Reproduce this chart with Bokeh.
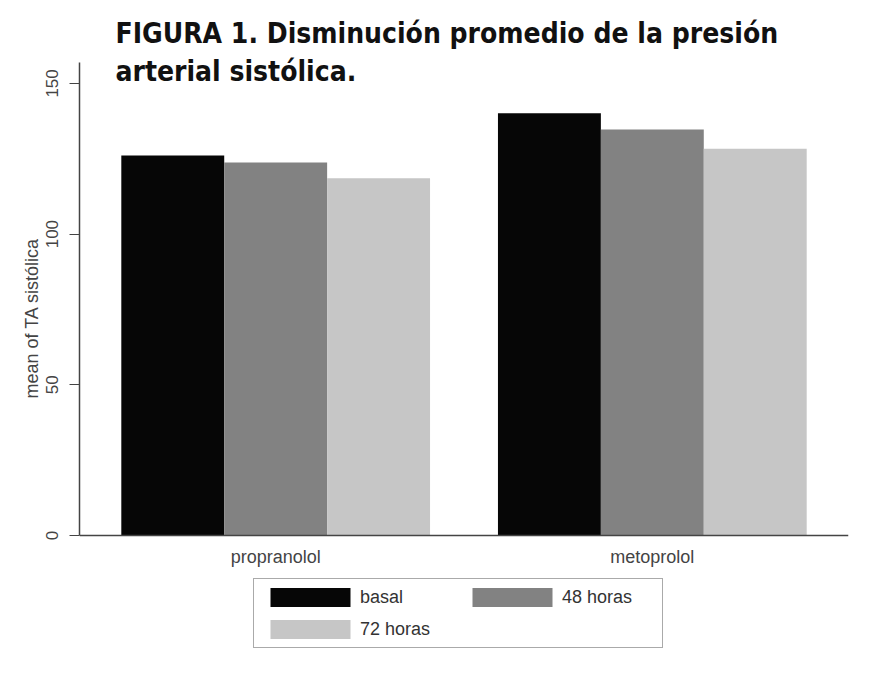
from bokeh.plotting import figure
from bokeh.models import FactorRange, Legend, LegendItem, Label, ColumnDataSource, Span, Title
from bokeh.core.properties import value
from bokeh.embed import file_html
from bokeh.resources import INLINE

categories = ["propranolol", "metoprolol"]
series = ["basal", "48 horas", "72 horas"]
basal = [126.1, 140.1]
horas48 = [123.8, 134.7]
horas72 = [118.5, 128.3]
colors = ["#060606", "#828282", "#c6c6c6"]
yticks = [0, 50, 100, 150]
title1 = "FIGURA 1. Disminución promedio de la presión"
title2 = "arterial sistólica."
ylabel = "mean of TA sistólica"

factors = [(c, s) for c in categories for s in series]
x_range = FactorRange(*factors, group_padding=0.66, range_padding=0.122)

p = figure(width=880, height=670, x_range=x_range, y_range=(-44.8, 174.2),
           output_backend="svg", toolbar_location=None,
           min_border_left=79, min_border_right=32, min_border_top=10, min_border_bottom=0)
p.outline_line_color = None
p.xgrid.grid_line_color = None
p.ygrid.grid_line_color = None
p.xaxis.visible = False

renderers = {}
for s, vals, col in zip(series, [basal, horas48, horas72], colors):
    src = ColumnDataSource(dict(x=[(c, s) for c in categories], top=vals))
    renderers[s] = p.vbar(x="x", top="top", width=1.0, source=src, fill_color=col, line_color=None)

# baseline (x axis line)
p.add_layout(Span(location=0, dimension="width", line_color="#444444", line_width=1.5))

# category labels
p.text(x=categories, y=[-7.3] * len(categories), text=categories,
       text_align="center", text_baseline="middle",
       text_font=value("Liberation Sans"), text_font_size="18px", text_color="#444444")

# y axis
yax = p.yaxis[0]
yax.ticker = yticks
yax.bounds = (0, 157)
yax.minor_tick_line_color = None
yax.major_tick_out = 10
yax.major_tick_in = 0
yax.major_label_standoff = 11
yax.major_label_orientation = "vertical"
yax.major_label_text_font = "Liberation Sans"
yax.major_label_text_font_size = "17px"
yax.major_label_text_color = "#444444"
yax.axis_line_color = "#444444"
yax.axis_line_width = 1.5
yax.major_tick_line_color = "#444444"

# y axis title, centred on the axis span (0..157) rather than the whole frame
p.add_layout(Title(text=ylabel, align="left", offset=272, standoff=4,
                   text_font="Liberation Sans", text_font_style="normal",
                   text_font_size="18px", text_color="#444444"), "left")

order = ["basal", "72 horas", "48 horas"]
items = [LegendItem(label=s, renderers=[renderers[s]]) for s in order]
legend = Legend(items=items, ncols=2, location=(174, 22),
                glyph_width=100, glyph_height=24, label_width=94, label_height=24,
                label_standoff=0, spacing=8, padding=6, margin=0,
                label_text_font="Liberation Sans", label_text_font_size="18px",
                label_text_color="#333333",
                border_line_color="#555555", border_line_width=1.5,
                background_fill_alpha=1.0)
p.add_layout(legend, "center")

t1 = Label(x=36, y=519 - 535 + 670, x_units="screen", y_units="screen", text_baseline="top",
           text=title1,
           text_font="DejaVu Sans Condensed, Liberation Sans", text_font_style="bold",
           text_font_size="28px", text_color="#111111")
t2 = Label(x=36, y=481 - 535 + 670, x_units="screen", y_units="screen", text_baseline="top",
           text=title2,
           text_font="DejaVu Sans Condensed, Liberation Sans", text_font_style="bold",
           text_font_size="28px", text_color="#111111")
p.add_layout(t1)
p.add_layout(t2)

open("out.html", "w").write(file_html(p, INLINE))
